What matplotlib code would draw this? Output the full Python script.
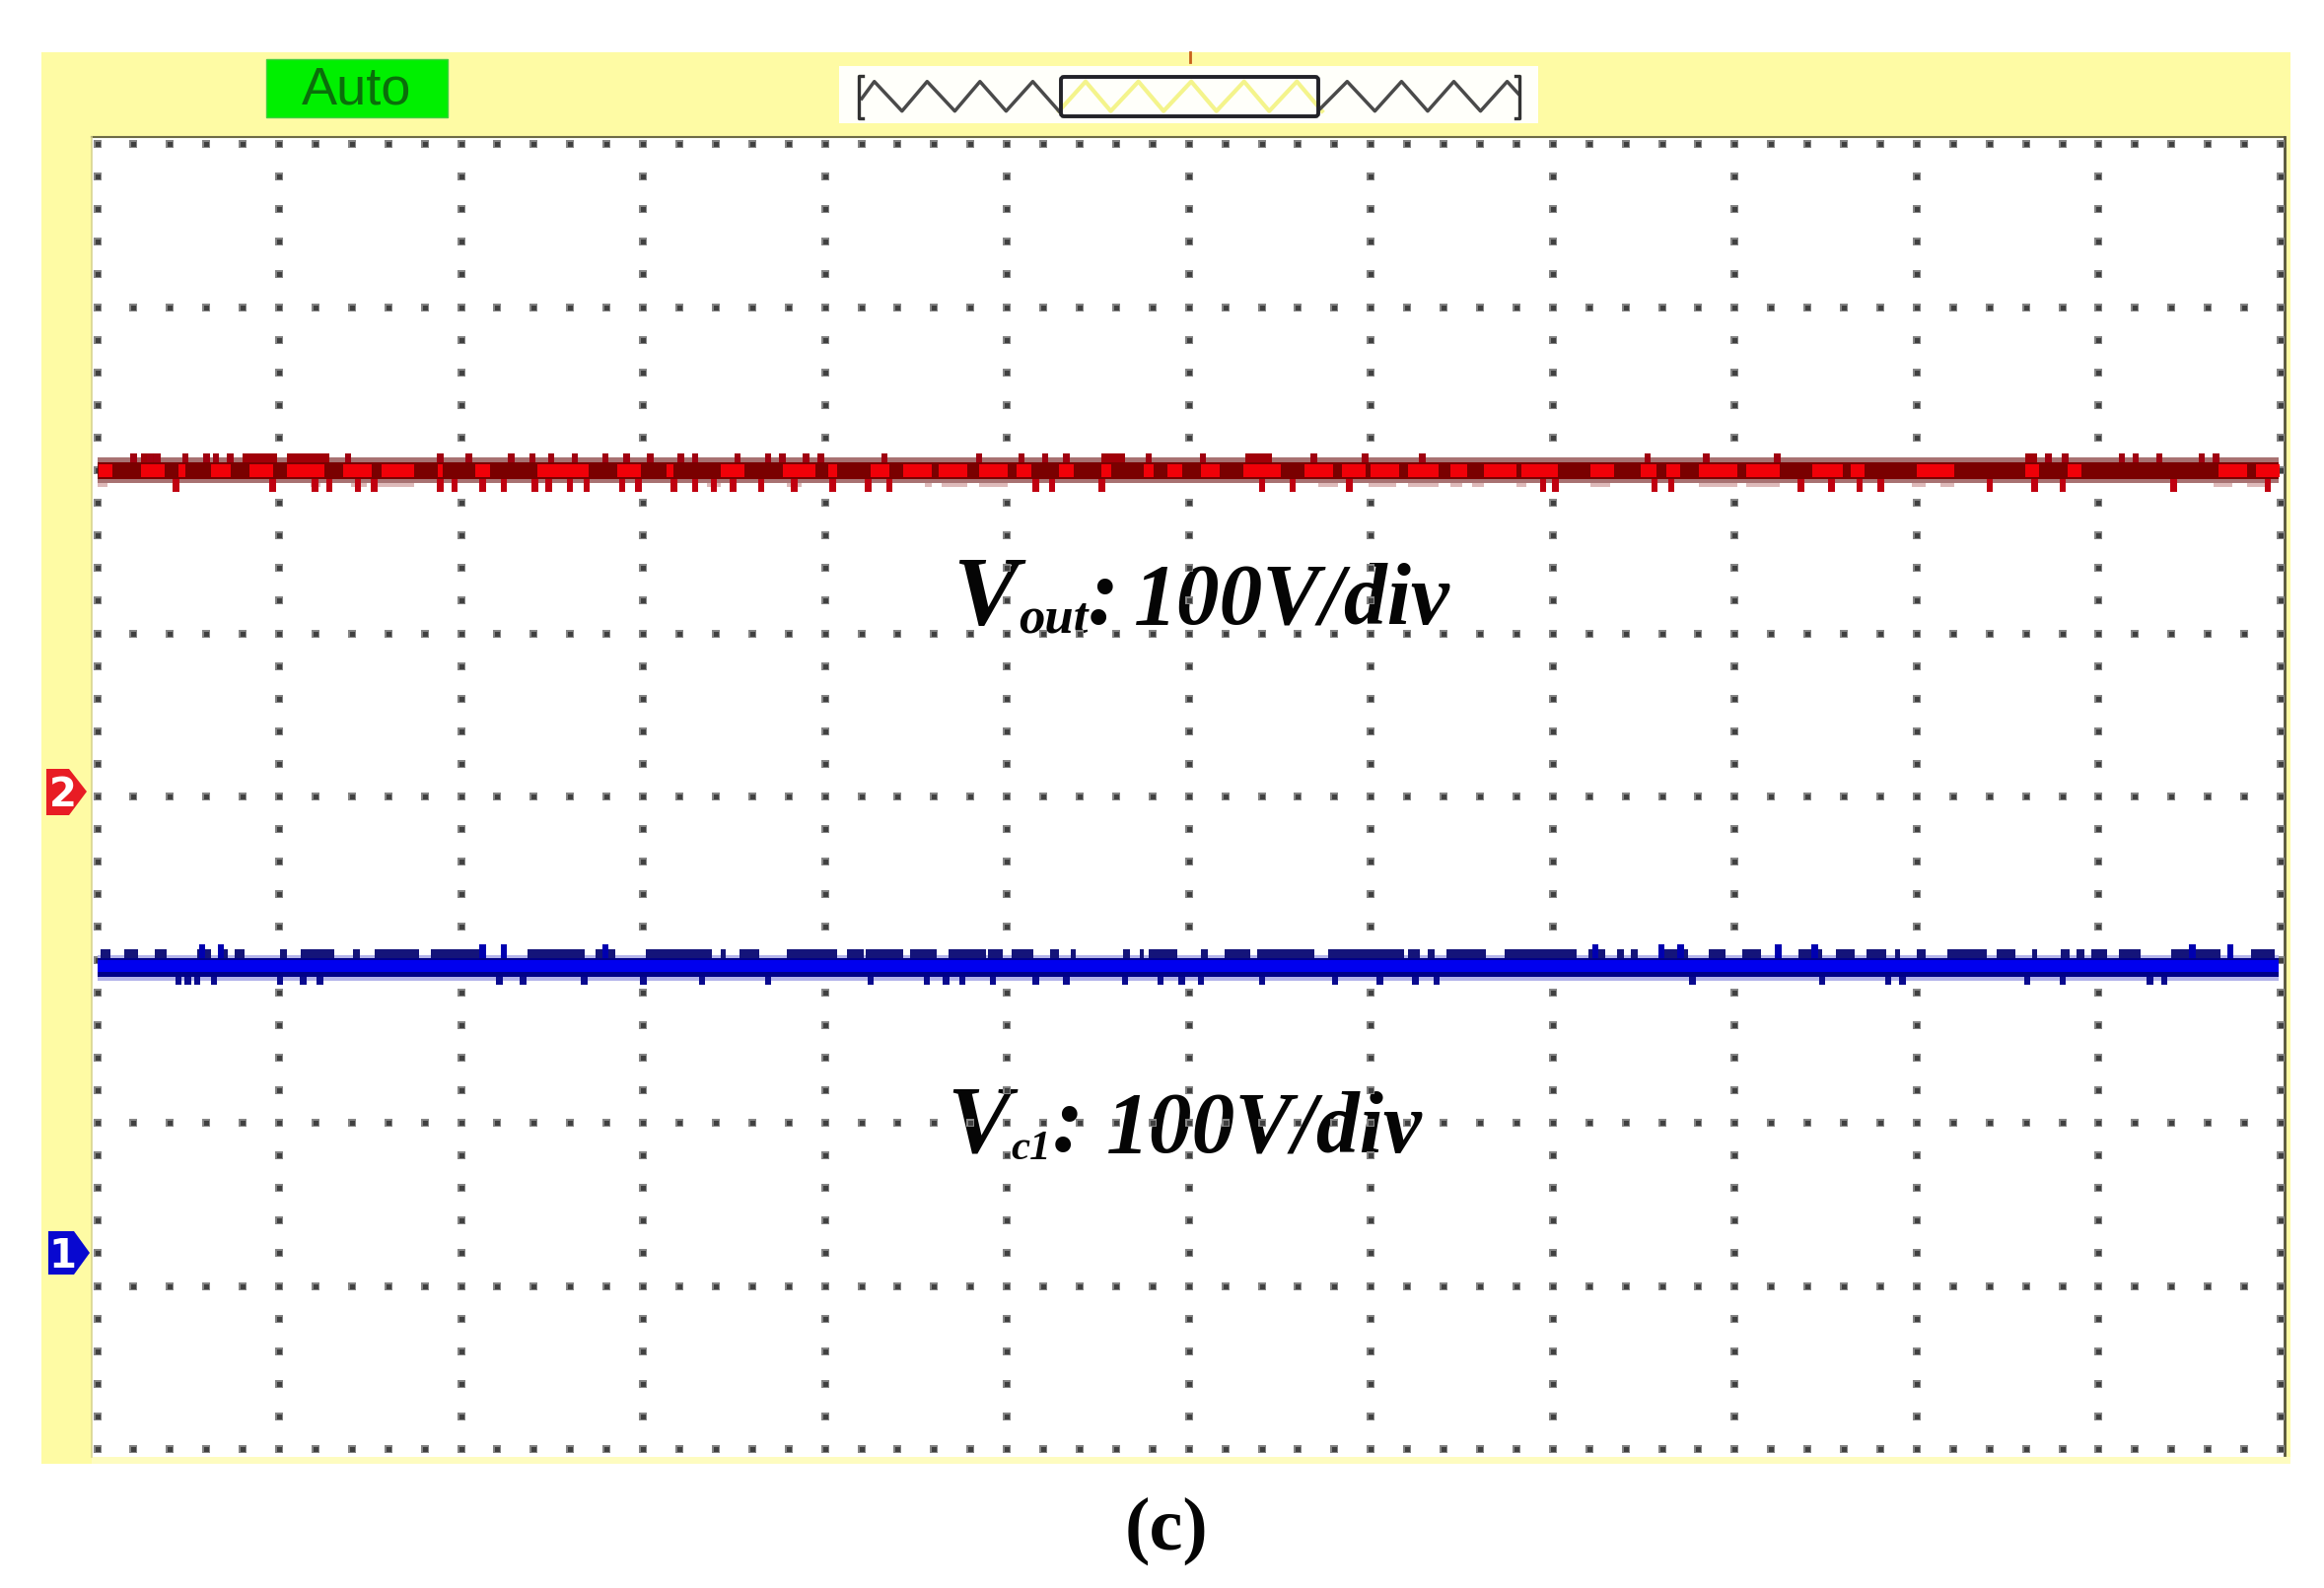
import numpy as np
import matplotlib
matplotlib.use("Agg")
import matplotlib.pyplot as plt
from matplotlib.patches import Rectangle, Polygon, FancyBboxPatch

W, H = 2357, 1611

# Oscilloscope screen: 12 x 8 divisions, 5 sub-divisions each
n_xdiv, n_ydiv, n_sub = 12, 8, 5
samples_per_div = 184.5

# Trace levels, in divisions above the bottom of the screen
red_levels = dict(pale_top=6.079, core_top=6.050, bright_top=6.036, bright_bot=5.958,
                  core_bot=5.944, pale_bot=5.921, tip_up=6.100, tip_down=5.868, pale_down=5.897)
blue_levels = dict(block_top=3.066, pale_top=3.027, core_top=3.008, bright_top=2.996,
                   bright_bot=2.924, core_bot=2.896, pale_bot=2.872, tip_up=3.092, tip_down=2.848)

# Trace features, read along the screen in three stretches (start pixel, then read positions)
seg_start = [90, 830, 1570]
red_up = [
    [95,130,145,205,250,270,300,550,745,805,895,940,980,1030,1095,1140,1190,1255,1285,1375,1440,1470,1520],
    [5,140,340,430,480,525,700,815,1050,1158,1280],
    [210,335,485,1060,1095,1215,1245,1295,1385,1415],
]
red_up_blocks = [
    [(325,400),(420,510),(110,150)],
    [(600,650),(905,960)],
    [(1010,1035)],
]
red_down = [
    [185,390,480,510,570,605,745,775,835,880,945,975,1020,1055,1130,1165,1240,1285,1325,1365,1425,1495],
    [30,105,150,460,495,600,940,1005,1125,1535],
    [15,225,260,535,600,660,705,935,1030,1090,1325,1525],
]
red_pale_blocks = [
    [(15,40),(470,490),(555,590),(610,690),(1310,1340),(1480,1510)],
    [(225,240),(260,315),(340,400),(1060,1100),(1165,1225),(1250,1315),(1340,1365),(1385,1410),(1480,1500)],
    [(90,130),(320,400),(420,490),(770,800),(830,860),(1410,1450),(1480,1520)],
]
red_bright = [
    [(20,50),(110,160),(190,205),(260,300),(340,390),(420,500),(540,600),(620,690),(740,750),(820,850),(950,1060),(1120,1170),(1225,1240),(1340,1390),(1470,1540)],
    [(20,40),(110,150),(180,240),(255,315),(340,400),(420,450),(510,540),(600,620),(690,710),(740,770),(810,850),(900,980),(1030,1090),(1110,1160),(1170,1230),(1250,1315),(1340,1375),(1410,1480),(1490,1550)],
    [(0,20),(90,140),(195,230),(250,280),(320,400),(420,490),(560,625),(640,670),(780,860),(1010,1040),(1100,1130),(1420,1480),(1500,1550)],
]
blue_blocks = [
    [(25,45),(75,105),(140,165),(230,260),(275,295),(310,330),(405,420),(450,520),(560,575),(605,700),(725,835),(930,1050),(1075,1115),(1180,1320),(1340,1350),(1380,1420),(1480,1568)],
    [(0,40),(60,95),(100,180),(195,250),(275,355),(360,390),(410,455),(490,510),(535,545),(645,660),(680,690),(700,760),(810,825),(860,915),(930,1050),(1080,1240),(1250,1275),(1290,1305),(1330,1415),(1455,1568)],
    [(0,60),(85,120),(145,160),(175,190),(235,295),(340,375),(410,450),(530,580),(610,650),(675,715),(735,745),(780,800),(845,930),(950,990),(1025,1035),(1085,1105),(1120,1135),(1150,1185),(1210,1255),(1320,1425),(1490,1540)],
]
blue_up = [
    [240,280,835,880,1095],
    [],
    [100,240,280,487,565,1365,1445],
]
blue_down = [
    [190,210,230,265,405,455,490,870,920,1050,1175,1300,1440],
    [110,230,270,305,370,460,525,650,725,770,810,940,1095,1190,1265,1310],
    [305,580,720,750,1015,1090,1275,1305],
]

# Labels
status_label = "Auto"
channel_labels = ["2", "1"]
panel_label = "(c)"
vout_parts = ["V", "out", ":", "100V/div"]
vc1_parts = ["V", "c1", ":", "100V/div"]

# Overview strip: zigzag turning points, read along the strip
zig_left = [145,170,225,275,330,380,432,485,537]
zig_mid = [537,590,640,695,745,800,850,905,955,1010,1060]
zig_right = [1057,1110,1165,1218,1270,1322,1375,1428,1450]

YELLOW = "#FEFBA4"
fig = plt.figure(figsize=(W/100, H/100), dpi=100, facecolor="white")

# page axes in image pixels, used for the instrument frame and labels
pg = fig.add_axes([0, 0, 1, 1])
pg.set_xlim(0, W); pg.set_ylim(H, 0); pg.axis("off")
pg.add_patch(Rectangle((42, 53), 2323-42, 1485-53, fc=YELLOW, ec="none", zorder=1))
pg.add_patch(Rectangle((93, 1478), 2230, 7, fc="#FEFCC0", ec="none", zorder=1.5))
pg.add_patch(Rectangle((93, 139), 2317-93, 1478-139, fc="white", ec="none", zorder=2))
pg.plot([93, 2317], [139, 139], color="#6E6C46", lw=1.5, zorder=3)
pg.plot([2317, 2317], [139, 1476], color="#55533A", lw=2.0, zorder=3)
pg.plot([93, 93], [139, 1478], color="#D8D490", lw=1.2, zorder=3)

# scope axes: x in samples, y in divisions
L, R, T, B = 98.5, 2313, 146, 1470
sc = fig.add_axes([L/W, 1-B/H, (R-L)/W, (B-T)/H])
sc.set_xlim(0, n_xdiv*samples_per_div); sc.set_ylim(0, n_ydiv)
sc.axis("off"); sc.patch.set_alpha(0)

xminor = np.arange(n_xdiv*n_sub+1)*samples_per_div/n_sub
yminor = np.arange(n_ydiv*n_sub+1)/n_sub
xmajor = np.arange(n_xdiv+1)*samples_per_div
ymajor = np.arange(n_ydiv+1)
for yy in ymajor:
    sc.plot(xminor, np.full_like(xminor, yy, dtype=float), ls="none", marker="s", ms=6.2, mew=0, color="#858585", clip_on=False, zorder=2)
    sc.plot(xminor, np.full_like(xminor, yy, dtype=float), ls="none", marker="s", ms=3.6, mew=0, color="#404040", clip_on=False, zorder=2.1)
for xx in xmajor:
    sc.plot(np.full_like(yminor, xx), yminor, ls="none", marker="s", ms=6.2, mew=0, color="#858585", clip_on=False, zorder=2)
    sc.plot(np.full_like(yminor, xx), yminor, ls="none", marker="s", ms=3.6, mew=0, color="#404040", clip_on=False, zorder=2.1)

def to_sample(read, start):
    return start + np.asarray(read, dtype=float)/2.09 - L

def spans(ax, blocks, y0, y1, color, z):
    for st, seg in zip(seg_start, blocks):
        if seg:
            a = to_sample([b[0] for b in seg], st); e = to_sample([b[1] for b in seg], st)
            ax.bar(a, y1-y0, width=e-a, bottom=y0, align="edge", color=color, lw=0, zorder=z)

def ticks(ax, marks, y0, y1, color, z, width=6.5):
    for st, seg in zip(seg_start, marks):
        if seg:
            ax.bar(to_sample(seg, st), y1-y0, width=width, bottom=y0, color=color, lw=0, zorder=z)

x0, x_end = -4, n_xdiv*samples_per_div - 2
span_w = x_end - x0
# red channel
r = red_levels
sc.bar(x0, r["pale_top"]-r["pale_bot"], width=span_w, bottom=r["pale_bot"], align="edge", color="#A87272", lw=0, zorder=4)
sc.bar(x0, r["core_top"]-r["core_bot"], width=span_w, bottom=r["core_bot"], align="edge", color="#7A0000", lw=0, zorder=5)
spans(sc, red_pale_blocks, r["pale_down"], r["pale_bot"], "#DDB9B9", 4)
spans(sc, red_up_blocks, r["core_top"], r["tip_up"], "#A00008", 5.5)
ticks(sc, red_up, r["core_top"], r["tip_up"], "#A00010", 5.5)
ticks(sc, red_down, r["tip_down"], r["core_bot"], "#C00010", 5.5)
spans(sc, red_bright, r["bright_bot"], r["bright_top"], "#F00008", 6)

# blue channel
b = blue_levels
sc.bar(x0, b["pale_top"]-b["pale_bot"], width=span_w, bottom=b["pale_bot"], align="edge", color="#B4B4EA", lw=0, zorder=4)
sc.bar(x0, b["core_top"]-b["core_bot"], width=span_w, bottom=b["core_bot"], align="edge", color="#000088", lw=0, zorder=5)
spans(sc, blue_blocks, b["core_top"], b["block_top"], "#14147A", 5)
ticks(sc, blue_up, b["core_top"], b["tip_up"], "#0000B0", 5.5)
ticks(sc, blue_down, b["tip_down"], b["core_bot"], "#0A0A90", 5.5)
sc.bar(x0, b["bright_top"]-b["bright_bot"], width=span_w, bottom=b["bright_bot"], align="edge", color="#0000EE", lw=0, zorder=6)

# Auto badge
pg.add_patch(Rectangle((270, 60), 184, 59, fc="#00F000", ec="#40D040", lw=1, zorder=3))
pg.text(362, 105, status_label, family="Liberation Sans", fontsize=39, color="#0B6E0B", ha="center", va="baseline", zorder=4)

# overview strip
pg.add_patch(Rectangle((851, 67), 709, 58, fc="#FFFFFA", ec="none", zorder=3))
pg.plot([1207, 1207], [53, 63], color="#C8601C", lw=2, zorder=4)
def zx(v): return 800 + np.asarray(v, dtype=float)/1.96
def zig(v, first_y, last_y, start_high):
    ys = []
    for i in range(len(v)):
        ys.append(82.7 if (i % 2 == 0) == start_high else 112.7)
    ys[0], ys[-1] = first_y, last_y
    return ys
pg.plot(zx(zig_mid), zig(zig_mid, 112.7, 112.7, False), color="#F4F48C", lw=3, zorder=4)
pg.plot(zx(zig_left), zig(zig_left, 100, 112.7, False), color="#4A4A4A", lw=2.5, zorder=4.5)
pg.plot(zx(zig_right), zig(zig_right, 110, 95, False), color="#4A4A4A", lw=2.5, zorder=4.5)
pg.plot([875, 871, 871, 875], [77, 77, 120, 120], color="#333333", lw=2.4, zorder=5)
pg.plot([1537, 1541, 1541, 1537], [77, 77, 120, 120], color="#333333", lw=2.4, zorder=5)
pg.add_patch(FancyBboxPatch((1076, 78), 261, 40, boxstyle="round,pad=0,rounding_size=3", fc="none", ec="#222228", lw=2.8, zorder=5))

# channel markers
pg.add_patch(Polygon([(47, 780), (70, 780), (88, 803), (70, 827), (47, 827)], fc="#E81C24", ec="none", zorder=5))
pg.text(63.5, 818, channel_labels[0], family="DejaVu Sans", weight="bold", fontsize=29, color="white", ha="center", va="baseline", zorder=6)
pg.add_patch(Polygon([(49, 1249), (75, 1249), (91, 1271), (75, 1293), (49, 1293)], fc="#0808D0", ec="none", zorder=5))
pg.text(63, 1286, channel_labels[1], family="DejaVu Sans", weight="bold", fontsize=29, color="white", ha="center", va="baseline", zorder=6)

# annotation text
def ttext(x, y, s, size):
    pg.text(x, y, s, family="Liberation Serif", style="italic", weight="bold", fontsize=size,
            color="#050505", ha="left", va="baseline", zorder=8)
ttext(966, 633, vout_parts[0], 72)
ttext(1033, 642, vout_parts[1], 38)
ttext(1103, 633, vout_parts[2], 70)
ttext(1150, 633, vout_parts[3], 63)
ttext(960, 1168, vc1_parts[0], 70)
ttext(1025, 1176, vc1_parts[1], 31)
ttext(1067, 1168, vc1_parts[2], 70)
ttext(1122, 1168, vc1_parts[3], 63)

pg.text(1183.5, 1572, panel_label, family="Liberation Serif", weight="bold", fontsize=55, color="#050505", ha="center", va="baseline", zorder=8)

fig.savefig("out.png", dpi=100, facecolor="white")
